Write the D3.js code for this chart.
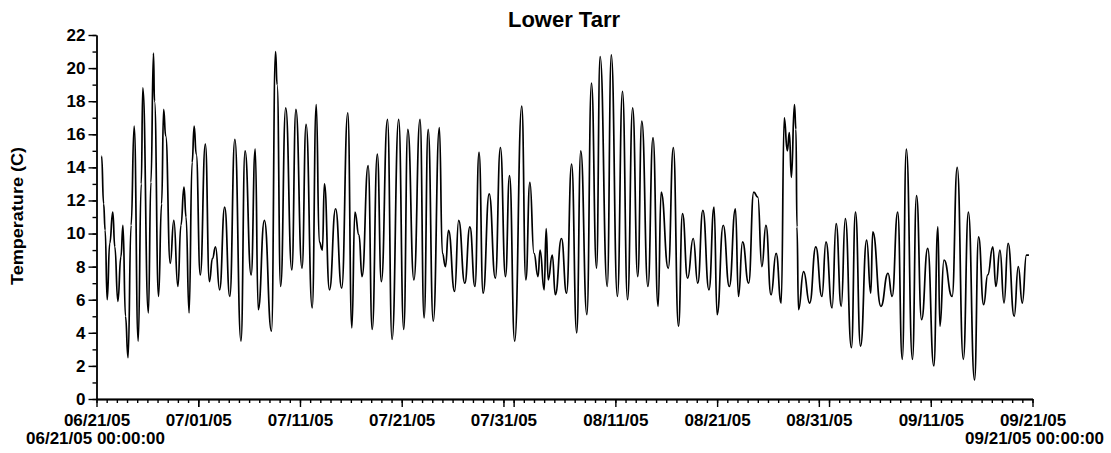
<!DOCTYPE html>
<html>
<head>
<meta charset="utf-8">
<script src="https://cdn.jsdelivr.net/npm/d3@7"></script>
<style>
  body { margin: 0; background: #fff; }
  text { font-family: "Liberation Sans", Arial, sans-serif; font-weight: bold; fill: #000; }
</style>
</head>
<body>
<svg id="chart" width="1111" height="453"></svg>
<script>
// Chart text
const chartTitle = "Lower Tarr";
const yAxisTitle = "Temperature (C)";
const startStamp = "06/21/05 00:00:00";
const endStamp = "09/21/05 00:00:00";

// Axis ticks
const xTickLabels = ["06/21/05", "07/01/05", "07/11/05", "07/21/05", "07/31/05",
                     "08/11/05", "08/21/05", "08/31/05", "09/11/05", "09/21/05"];
const yTickValues = [0, 2, 4, 6, 8, 10, 12, 14, 16, 18, 20, 22];

// Water temperature record: time (days since 06/21/05 00:00) and temperature (C)
const dayOffset = [
  0.5, 0.7, 0.85, 1.05, 1.3, 1.6, 1.8, 2.1, 2.4, 2.6, 2.85, 3.1, 3.4, 3.7, 4.1, 4.4, 4.55, 5.1, 5.35, 5.6, 5.7, 6.1, 6.4, 6.6, 6.8,
  7.25, 7.6, 8.0, 8.3, 8.6, 8.8, 9.1, 9.4, 9.6, 9.8, 10.2, 10.7, 11.1, 11.4, 11.7, 12.1, 12.6, 13.1, 13.6, 14.2, 14.6, 15.2, 15.6,
  15.9, 16.5, 17.2, 17.6, 17.75, 18.1, 18.6, 19.2, 19.6, 20.2, 20.6, 21.2, 21.6, 21.9, 22.2, 22.4, 22.9, 23.5, 24.1, 24.7, 25.1,
  25.4, 25.8, 26.1, 26.7, 27.1, 27.6, 28.0, 28.6, 29.05, 29.7, 30.2, 30.6, 31.2, 31.8, 32.2, 32.6, 33.1, 33.7, 34.0, 34.3, 34.6,
  35.2, 35.6, 36.2, 36.7, 37.2, 37.6, 38.0, 38.6, 39.2, 39.7, 40.2, 40.6, 41.1, 41.8, 42.2, 42.6, 43.0, 43.4, 43.6, 44.0, 44.2,
  44.4, 44.8, 45.1, 45.7, 46.2, 46.7, 47.2, 47.6, 48.2, 48.65, 49.15, 49.5, 50.2, 50.6, 51.2, 51.7, 52.2, 52.7, 53.2, 53.6, 54.2,
  54.7, 55.2, 55.5, 56.2, 56.7, 57.2, 57.6, 58.1, 58.65, 59.1, 59.6, 60.2, 60.7, 61.0, 61.6, 62.2, 62.8, 63.1, 63.5, 64.1, 64.6,
  65.0, 65.4, 65.8, 66.3, 66.8, 67.3, 67.6, 67.9, 68.1, 68.3, 68.6, 68.75, 68.85, 69.0, 69.5, 70.1, 70.7, 71.3, 71.7, 72.3, 72.7,
  73.2, 73.6, 74.2, 74.6, 75.1, 75.7, 76.1, 76.3, 77.1, 77.8, 78.2, 78.75, 79.2, 79.6, 80.2, 80.6, 81.1, 81.7, 82.3, 82.7, 82.9,
  83.3, 84.1, 84.6, 85.2, 85.7, 86.3, 86.7, 87.2, 87.6, 88.1, 88.4, 88.8, 89.2, 89.6, 90.2, 90.6, 91.0, 91.4, 91.65
];
const tempC = [
  14.7, 11.8, 10.2, 6.0, 9.4, 11.3, 9.2, 5.9, 8.6, 10.5, 5.0, 2.5, 10.5, 16.5, 3.5, 13.0, 18.8, 5.2, 13.1, 20.9, 18.0, 6.2, 11.8, 17.5, 15.9,
  8.2, 10.8, 6.8, 10.5, 12.8, 11.0, 5.2, 14.3, 16.5, 14.8, 7.5, 15.4, 7.1, 8.5, 9.2, 6.6, 11.6, 6.2, 15.7, 3.5, 15.0, 7.5, 15.1,
  5.4, 10.8, 4.1, 21.0, 19.0, 6.8, 17.6, 7.8, 17.5, 7.9, 16.6, 5.5, 17.8, 9.5, 9.0, 13.0, 6.6, 11.5, 6.7, 17.3, 4.3,
  11.3, 9.9, 7.4, 14.1, 4.2, 14.8, 7.1, 16.9, 3.6, 16.9, 4.2, 16.3, 7.2, 16.9, 4.9, 16.3, 4.7, 16.4, 8.8, 8.0, 10.2,
  6.5, 10.8, 7.0, 10.4, 6.8, 14.9, 6.4, 12.4, 7.3, 15.2, 7.4, 13.5, 3.5, 17.7, 7.2, 13.1, 8.8, 7.4, 9.0, 6.6, 10.3,
  7.2, 8.7, 6.3, 9.7, 6.4, 14.2, 4.0, 15.0, 5.1, 19.1, 7.9, 20.7, 6.8, 20.8, 6.2, 18.6, 6.0, 17.6, 7.4, 16.8, 6.8,
  15.8, 5.6, 12.5, 7.9, 15.2, 4.4, 11.2, 7.3, 9.7, 7.0, 11.4, 6.6, 11.6, 5.1, 10.5, 6.8, 11.5, 6.2, 9.5, 7.0, 12.5,
  12.2, 8.0, 10.5, 6.3, 8.8, 5.8, 17.0, 15.0, 16.1, 13.4, 17.8, 16.3, 10.4, 5.4, 7.7, 5.8, 9.2, 6.2, 9.5, 5.5, 10.6,
  5.6, 10.9, 3.1, 11.3, 3.2, 9.6, 6.4, 10.1, 5.6, 7.6, 6.2, 11.3, 2.4, 15.1, 2.4, 12.3, 4.8, 9.1, 2.0, 10.4, 4.4,
  8.4, 6.2, 14.0, 2.4, 11.3, 1.15, 9.8, 5.7, 7.5, 9.2, 6.8, 9.0, 5.8, 9.4, 5.0, 8.0, 5.8, 8.7, 8.7
];

const svg = d3.select("#chart");
const parseTick = d3.timeParse("%m/%d/%y");
const startDate = parseTick(xTickLabels[0]);
const endDate = parseTick(xTickLabels[xTickLabels.length - 1]);
const msPerDay = 86400000;

const plot = { left: 96.5, right: 1032.5, top: 35, bottom: 399 };

const x = d3.scaleTime().domain([startDate, endDate]).range([plot.left, plot.right]);
const y = d3.scaleLinear().domain([0, 22]).range([plot.bottom, plot.top]);

const records = dayOffset.map((d, i) => ({
  time: new Date(startDate.getTime() + d * msPerDay),
  temp: tempC[i]
}));

// Minor ticks: every day on x, every degree on y
svg.append("g")
  .attr("transform", `translate(0,${plot.bottom})`)
  .call(d3.axisBottom(x).tickValues(d3.timeDay.range(startDate, d3.timeDay.offset(endDate, 1)))
    .tickSize(4).tickSizeOuter(0).tickFormat(""));
svg.append("g")
  .attr("transform", `translate(${plot.left},0)`)
  .call(d3.axisLeft(y).tickValues(d3.range(0, 23, 1)).tickSize(4).tickSizeOuter(0).tickFormat(""));

// Unlabelled long ticks at the start of each month
svg.append("g")
  .attr("transform", `translate(0,${plot.bottom})`)
  .call(d3.axisBottom(x).tickValues(d3.timeMonth.range(startDate, endDate))
    .tickSize(8).tickSizeOuter(0).tickFormat(""));

// Major ticks with labels
const xAxis = svg.append("g")
  .attr("transform", `translate(0,${plot.bottom})`)
  .call(d3.axisBottom(x).tickValues(xTickLabels.map(parseTick))
    .tickSize(8).tickSizeOuter(0).tickPadding(7)
    .tickFormat(d3.timeFormat("%m/%d/%y")));
const yAxis = svg.append("g")
  .attr("transform", `translate(${plot.left},0)`)
  .call(d3.axisLeft(y).tickValues(yTickValues).tickSize(8).tickSizeOuter(0).tickPadding(3)
    .tickFormat(d3.format("d")));

svg.selectAll(".domain, .tick line").attr("stroke", "#000").attr("stroke-width", 1.4);
xAxis.selectAll(".tick text").attr("font-size", 17).attr("font-family", null).attr("dy", "0.71em");
yAxis.selectAll(".tick text").attr("font-size", 17).attr("font-family", null);

// Temperature trace: steep day/night transitions with short plateaus at the extremes
svg.append("path")
  .datum(records)
  .attr("fill", "none")
  .attr("stroke", "#000")
  .attr("stroke-width", 1.7)
  .attr("d", d3.line().curve(d3.curveBumpX).x(d => x(d.time)).y(d => y(d.temp)));

// Titles
svg.append("text")
  .attr("x", 564).attr("y", 27)
  .attr("text-anchor", "middle")
  .attr("font-size", 22)
  .text(chartTitle);

svg.append("text")
  .attr("transform", "translate(23,216) rotate(-90)")
  .attr("text-anchor", "middle")
  .attr("font-size", 16)
  .attr("textLength", 138)
  .attr("lengthAdjust", "spacingAndGlyphs")
  .text(yAxisTitle);

svg.append("text")
  .attr("x", 26).attr("y", 444)
  .attr("font-size", 17)
  .text(startStamp);

svg.append("text")
  .attr("x", 1104).attr("y", 444)
  .attr("text-anchor", "end")
  .attr("font-size", 17)
  .text(endStamp);
</script>
</body>
</html>
